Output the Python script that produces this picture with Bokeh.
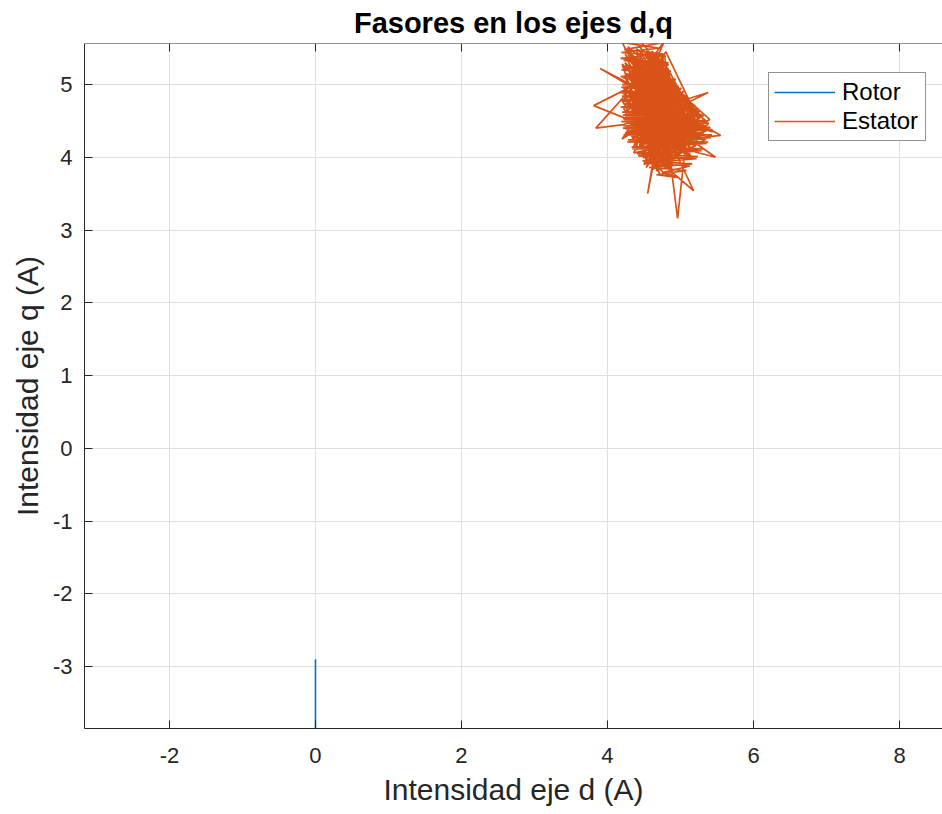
import math

from bokeh.plotting import figure
from bokeh.models import Range1d, FixedTicker, Legend, LegendItem, Span
from bokeh.embed import file_html
from bokeh.resources import INLINE

# Text and tick labels
title_text = "Fasores en los ejes d,q"
x_label = "Intensidad eje d (A)"
y_label = "Intensidad eje q (A)"
x_ticks = [-2, 0, 2, 4, 6, 8]
x_tick_labels = ["-2", "0", "2", "4", "6", "8"]
y_ticks = [-3, -2, -1, 0, 1, 2, 3, 4, 5]
y_tick_labels = ["-3", "-2", "-1", "0", "1", "2", "3", "4", "5"]

series_names = ["Rotor", "Estator"]
series_colors = ["#0072BD", "#D95319"]

# Axis limits
x_min, x_max = -3.164, 8.589
y_min, y_max = -3.852, 5.564

# Rotor current phasor (d, q)
rotor_d = [0.0, 0.0, 0.0]
rotor_q = [-2.90, -3.45, -4.00]

# Stator current phasor trajectory (d, q)
stator_points = [
    (4.61, 4.57), (4.93, 4.34), (4.37, 4.95), (4.72, 4.13), (5.04, 4.68), (4.28, 5.21), (4.86, 4.45), (4.56, 3.96), (5.23, 4.37), (4.46, 5.36),
    (4.69, 4.72), (4.31, 4.41), (5.11, 4.03), (4.58, 5.07), (4.90, 4.89), (4.24, 4.64), (4.80, 3.85), (5.34, 4.52), (4.51, 4.26), (4.40, 5.49),
    (4.85, 5.13), (4.63, 4.38), (5.06, 4.18), (4.35, 4.79), (4.74, 5.29), (4.99, 4.55), (4.47, 4.04), (4.83, 3.74), (5.16, 4.73), (4.26, 5.03),
    (3.90, 5.22),
    (4.55, 4.84), (4.78, 4.23), (4.33, 5.41), (4.97, 4.97), (4.64, 3.89), (5.29, 4.31), (4.42, 4.58), (4.70, 5.44), (4.21, 4.88), (5.01, 4.41),
    (4.52, 5.19), (4.88, 4.06), (4.29, 4.33), (4.76, 4.93), (5.19, 4.60), (4.60, 4.17), (4.39, 5.26), (4.95, 4.76), (4.67, 3.81), (5.08, 4.27),
    (4.96, 3.16),
    (4.81, 4.36), (4.32, 5.08), (4.73, 4.61), (4.49, 3.99), (5.38, 4.45), (4.44, 5.52), (4.89, 5.02), (4.22, 4.52), (4.66, 4.99), (5.13, 4.14),
    (4.57, 4.69), (4.36, 4.15), (4.92, 4.83), (4.75, 5.37), (4.27, 4.71), (5.24, 4.49), (4.62, 4.29), (4.50, 5.27), (4.84, 3.93), (4.41, 4.47),
    (3.81, 4.71),
    (4.68, 5.15), (5.02, 4.35), (4.30, 4.93), (4.79, 4.55), (4.53, 3.86), (5.10, 4.62), (4.35, 5.33), (4.87, 4.21), (4.58, 4.43), (4.23, 5.12),
    (4.96, 4.65), (4.71, 4.08), (4.45, 4.66), (4.82, 5.23), (5.27, 4.39), (4.48, 4.12), (4.61, 5.46), (5.05, 4.81), (4.25, 4.38), (4.77, 4.76),
    (5.55, 4.30),
    (5.17, 4.26), (4.54, 4.91), (4.90, 3.97), (4.38, 4.54), (4.69, 5.31), (5.12, 4.50), (4.43, 4.23), (4.86, 4.68), (4.30, 5.46), (4.74, 4.00),
    (5.30, 4.58), (4.59, 4.79), (4.34, 5.00), (4.98, 4.24), (4.65, 5.20), (4.52, 4.33), (4.93, 5.00), (4.28, 4.47), (4.80, 4.32), (4.62, 3.92),
    (4.55, 3.50),
    (4.73, 4.45), (5.07, 4.71), (4.40, 5.12), (4.85, 4.57), (4.20, 4.78), (4.70, 3.94), (5.21, 4.16), (4.47, 4.74), (4.78, 5.40), (4.96, 4.40),
    (4.33, 4.28), (4.66, 4.86), (5.00, 4.11), (4.56, 5.28), (4.89, 4.72), (4.24, 5.30), (4.75, 4.19), (5.35, 4.36), (4.44, 4.86), (4.63, 4.52),
    (5.38, 4.89),
    (5.03, 4.78), (4.51, 4.61), (4.83, 4.09), (4.37, 5.17), (4.70, 4.37), (5.14, 4.44), (4.29, 4.60), (4.91, 4.94), (4.58, 3.98), (4.79, 5.06),
    (4.42, 4.35), (5.09, 4.55), (4.61, 5.38), (4.87, 4.29), (4.26, 4.92), (4.72, 4.66), (5.22, 4.28), (4.50, 4.18), (4.68, 5.02), (4.97, 3.99),
    (5.18, 3.54),
    (4.88, 3.80), (4.64, 4.47), (4.32, 4.83), (4.81, 5.18), (5.11, 4.34), (4.46, 4.95), (4.76, 4.26), (4.39, 5.39), (4.94, 4.60), (4.57, 4.08),
    (5.26, 4.63), (4.43, 4.43), (4.84, 4.98), (4.27, 5.25), (4.69, 4.25), (5.04, 4.91), (4.54, 4.51), (4.36, 4.06), (4.92, 4.17), (4.67, 5.33),
    (3.84, 4.40),
    (4.22, 4.45), (4.81, 4.62), (4.48, 5.04), (5.18, 4.38), (4.60, 4.02), (4.85, 4.88), (4.31, 4.69), (4.99, 4.31), (4.55, 5.23), (4.77, 4.40),
    (4.40, 4.80), (5.13, 4.56), (4.65, 3.88), (4.90, 5.06), (4.25, 5.38), (4.71, 4.51), (5.32, 4.47), (4.49, 4.31), (4.83, 5.31), (4.58, 4.64),
    (5.48, 4.00),
    (5.14, 4.09), (4.74, 4.85), (4.34, 4.50), (4.95, 4.47), (4.62, 5.12), (4.45, 4.21), (4.86, 4.62), (4.28, 5.09), (5.06, 4.37), (4.73, 3.97),
    (4.53, 4.77), (4.97, 4.85), (4.38, 5.30), (4.82, 4.14), (4.60, 4.89), (5.20, 4.46), (4.47, 4.45), (4.70, 5.25), (4.91, 4.26), (4.35, 4.62),
    (4.79, 5.62),
    (4.59, 5.32), (4.87, 4.50), (4.43, 4.03), (5.00, 4.63), (4.66, 4.33), (4.30, 5.16), (4.80, 4.82), (4.52, 4.40), (5.08, 4.20), (4.63, 4.74),
    (4.20, 5.58), (4.70, 5.50), (4.19, 5.44), (4.80, 5.39), (4.22, 5.33), (4.84, 5.27), (4.19, 5.20), (4.88, 5.14), (4.21, 5.09), (4.93, 5.02),
    (4.19, 4.96), (4.99, 4.91), (4.20, 4.84), (5.07, 4.80), (4.22, 4.73), (5.17, 4.70), (4.20, 4.62), (5.26, 4.60), (4.23, 4.52), (5.34, 4.50),
    (4.22, 4.43), (5.41, 4.41), (4.24, 4.34), (5.43, 4.31), (4.28, 4.24), (5.38, 4.21), (4.33, 4.14), (5.31, 4.12), (4.40, 4.05), (5.24, 4.01),
    (4.48, 3.95), (5.16, 3.91), (4.57, 3.86), (5.08, 3.82), (4.67, 3.76), (4.98, 3.72),
    (4.75, 3.79), (5.13, 3.88), (4.51, 3.92), (5.22, 3.98), (4.42, 4.02), (5.29, 4.09), (4.34, 4.12), (5.36, 4.19), (4.27, 4.21), (5.42, 4.27),
    (4.22, 4.31), (5.44, 4.38), (4.21, 4.40), (5.39, 4.47), (4.19, 4.49), (5.32, 4.57), (4.21, 4.58), (5.24, 4.67), (4.18, 4.69), (5.12, 4.77),
    (4.20, 4.79), (5.04, 4.86), (4.18, 4.89), (4.97, 4.95), (4.20, 5.00), (4.91, 5.06), (4.18, 5.11), (4.87, 5.18), (4.21, 5.23), (4.82, 5.30),
    (4.18, 5.36), (4.77, 5.42), (4.23, 5.48), (4.72, 5.57),
    (4.45, 5.60), (4.95, 4.98), (4.25, 5.15), (5.20, 4.58), (4.30, 4.70), (5.44, 4.35), (4.22, 4.95), (5.05, 4.10), (4.35, 4.45), (4.90, 3.78),
    (4.50, 4.25), (5.35, 4.25), (4.60, 3.82), (5.25, 4.62), (4.40, 5.30), (5.10, 4.82), (4.20, 4.25), (4.85, 5.20), (4.55, 4.00), (5.40, 4.52),
    (4.28, 5.52), (4.65, 4.80), (5.15, 4.00), (4.24, 4.58), (4.80, 5.45), (5.30, 4.40), (4.38, 4.10), (4.97, 4.60), (4.20, 5.28), (4.72, 3.75),
    (4.30, 4.88), (5.02, 4.52), (4.45, 5.45), (4.62, 4.06), (5.28, 4.44), (4.21, 5.05), (4.78, 4.70), (4.50, 3.90), (5.19, 4.33), (4.36, 5.22),
    (4.88, 4.40), (4.26, 4.48), (4.69, 5.41), (5.09, 4.09), (4.41, 4.70), (4.93, 5.08), (4.58, 4.15), (5.36, 4.49), (4.32, 5.36), (4.76, 4.47),
    (4.46, 4.28), (5.01, 4.95), (4.22, 4.67), (4.85, 3.87), (4.63, 5.09), (5.23, 4.22), (4.38, 4.93), (4.95, 4.52), (4.54, 5.50), (4.70, 3.99),
    (5.32, 4.34), (4.28, 4.37), (4.82, 5.11), (4.49, 4.55), (5.12, 4.68), (4.35, 5.06), (4.74, 4.30), (4.60, 4.97), (5.16, 4.18), (4.24, 5.42),
    (4.90, 4.61), (4.44, 4.16), (4.67, 5.18), (5.05, 4.44), (4.31, 4.57), (4.79, 3.90), (4.57, 5.34), (5.26, 4.53), (4.40, 4.39), (4.86, 5.04),
    (4.23, 4.81), (4.99, 4.19), (4.65, 4.68), (4.47, 5.13), (5.20, 4.71), (4.34, 4.25), (4.81, 4.78), (4.52, 3.93), (4.96, 4.33), (4.39, 5.48),
]
stator_d = [pt[0] for pt in stator_points]
stator_q = [pt[1] for pt in stator_points]

FONT = "Liberation Sans"
INK = "#262626"

p = figure(
    frame_width=858, frame_height=685,
    x_range=Range1d(x_min, x_max), y_range=Range1d(y_min, y_max),
    output_backend="svg", toolbar_location=None,
    min_border_left=84, min_border_right=0, min_border_top=43, min_border_bottom=86,
    background_fill_color="white", border_fill_color="white",
    outline_line_color=None,
)

p.title.text = title_text
p.title.align = "center"
p.title.text_font = FONT
p.title.text_font_size = "29px"
p.title.text_font_style = "bold"
p.title.text_color = "#000000"
p.title.standoff = 9

xt = FixedTicker(ticks=x_ticks)
yt = FixedTicker(ticks=y_ticks)

xax = p.xaxis[0]
yax = p.yaxis[0]
xax.ticker = xt
yax.ticker = yt
xax.major_label_overrides = dict(zip(x_ticks, x_tick_labels))
yax.major_label_overrides = dict(zip(y_ticks, y_tick_labels))
xax.axis_label = x_label
yax.axis_label = y_label

for ax in (xax, yax):
    ax.axis_line_color = INK
    ax.axis_line_width = 1
    ax.major_tick_line_color = INK
    ax.major_tick_in = 8
    ax.major_tick_out = 0
    ax.minor_tick_line_color = None
    ax.major_label_text_font = FONT
    ax.major_label_text_font_size = "22px"
    ax.major_label_text_color = INK
    ax.axis_label_text_font = FONT
    ax.axis_label_text_font_size = "30px"
    ax.axis_label_text_font_style = "normal"
    ax.axis_label_text_color = INK

xax.major_label_standoff = 19
xax.axis_label_standoff = 7
yax.major_label_standoff = 12
yax.axis_label_standoff = 6

# Top border of the box, with inward ticks
p.add_layout(Span(location=y_max, dimension="width", line_color=INK, line_width=1))
p.ray(x=x_ticks, y=[y_max] * len(x_ticks), length=8, length_units="screen",
      angle=-math.pi / 2, line_color=INK, line_width=1)

p.xgrid.ticker = xt
p.ygrid.ticker = yt
for g in (p.xgrid[0], p.ygrid[0]):
    g.grid_line_color = "#dfdfdf"
    g.grid_line_width = 1

r_rotor = p.line(rotor_d, rotor_q, line_color=series_colors[0], line_width=1.6)
r_stator = p.line(stator_d, stator_q, line_color=series_colors[1], line_width=1.7)

legend = Legend(
    items=[
        LegendItem(label=series_names[0], renderers=[r_rotor]),
        LegendItem(label=series_names[1], renderers=[r_stator]),
    ],
    location=(684, 587),
    margin=0, padding=5, spacing=1,
    glyph_width=61, glyph_height=26, label_height=26, label_width=78, label_standoff=7,
    label_text_font=FONT, label_text_font_size="24px", label_text_color="#000000",
    border_line_color=INK, border_line_width=1,
    background_fill_color="white", background_fill_alpha=1.0,
)
p.add_layout(legend)

open("out.html", "w").write(file_html(p, INLINE))
